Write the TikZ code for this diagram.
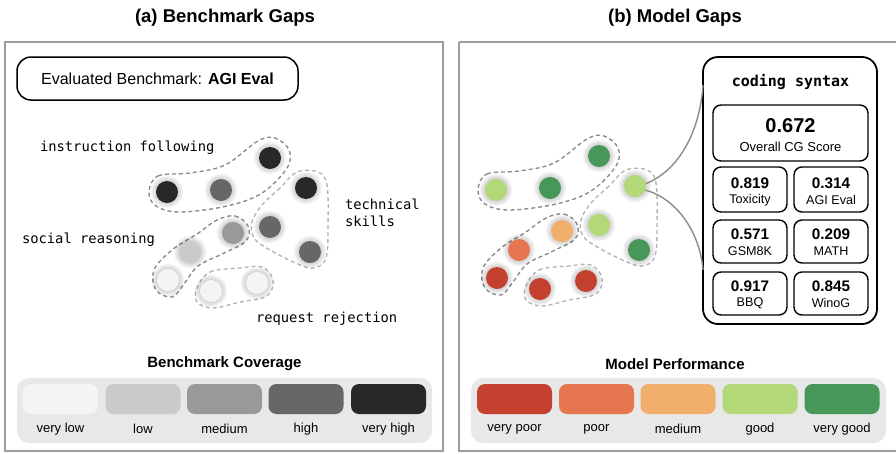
\documentclass[tikz,border=0pt]{standalone}
\usepackage{fontspec}
\setmainfont{Liberation Sans}
\setmonofont{DejaVu Sans Mono}

% coverage scale (greys)
\definecolor{cvlow}{HTML}{F4F4F4}
\definecolor{clow}{HTML}{CACACA}
\definecolor{cmed}{HTML}{999999}
\definecolor{chigh}{HTML}{676767}
\definecolor{cvhigh}{HTML}{282828}
% performance scale
\definecolor{pvpoor}{HTML}{C5412F}
\definecolor{ppoor}{HTML}{E5764F}
\definecolor{pmed}{HTML}{F0B06B}
\definecolor{pgood}{HTML}{B2D877}
\definecolor{pvgood}{HTML}{479758}
% frames
\definecolor{panelgray}{HTML}{9C9C9C}
\definecolor{hullgray}{HTML}{8A8A8A}
\definecolor{hulllight}{HTML}{B4B4B4}
\definecolor{legendbg}{HTML}{E8E8E8}
\definecolor{conngray}{HTML}{8C8C8C}

\tikzset{
  every node/.style={inner sep=0pt, outer sep=0pt},
  panel/.style={draw=panelgray, line width=2pt},
  hull/.style={draw=#1, line width=1.35pt, dash pattern=on 4pt off 3pt},
  hull/.default=hullgray,
  dotnode/.style={circle, minimum size=22pt, fill=#1},
  title/.style={font=\bfseries\fontsize{18.5}{22}\selectfont},
  monolabel/.style={font=\ttfamily\fontsize{13.8}{16.5}\selectfont},
  legtitle/.style={font=\bfseries\fontsize{15}{18}\selectfont},
  legbg/.style={fill=legendbg, rounded corners=12pt},
  swatch/.style={minimum width=75pt, minimum height=30pt, rounded corners=8pt, fill=#1},
  leglabel/.style={font=\fontsize{13}{15}\selectfont},
  scorebox/.style={draw, line width=1.4pt, rounded corners=8pt},
  scorenum/.style={font=\bfseries\fontsize{15.3}{18}\selectfont},
  scorelab/.style={font=\fontsize{12.6}{15}\selectfont},
  conn/.style={draw=conngray, line width=1.4pt},
}

% a soft halo under each circle
\newcommand\gdot[4]{%
  \foreach \k in {1,...,10}{\fill[black, opacity=0.02] (#2,#3) circle ({10.5+0.6*\k});}
  \node[dotnode=#4] (#1) at (#2,#3) {};
}

% the four dashed cluster outlines
\newcommand\drawhulls{%
  \draw[hull] plot[smooth cycle, tension=0.6] coordinates {(149,192) (158,176) (190,173) (225,165) (258,141) (275,138) (289,150) (287,168) (262,193) (227,206) (180,212) (156,206)};
  \draw[hull=hulllight] plot[smooth cycle, tension=0.6] coordinates {(297,172) (280,188) (262,205) (252,222) (254,238) (270,250) (298,264) (314,268) (326,258) (328,225) (327,185) (318,172)};
  \draw[hull] plot[smooth cycle, tension=0.6] coordinates {(217,220) (235,216) (248,226) (246,241) (222,254) (198,266) (184,284) (172,297) (156,290) (154,270) (172,250) (197,234)};
  \draw[hull=hulllight] plot[smooth cycle, tension=0.6] coordinates {(197,288) (210,272) (240,268) (262,267) (273,280) (267,296) (240,302) (213,308) (197,302)};
}

\begin{document}
\begin{tikzpicture}[x=1pt, y=-1pt]
\useasboundingbox (0,0) rectangle (896,453);

% ---------------- panel (a) ----------------
\node[title] (ta) at (225,18) {(a) Benchmark Gaps};
\draw[panel] (5,42) rectangle (443,451);

\node[draw, line width=1.5pt, rounded corners=14pt, minimum width=281pt, minimum height=43pt,
      font=\fontsize{16}{19}\selectfont] (evalbox) at (157.5,78.5)
      {Evaluated Benchmark: \textbf{AGI Eval}};

\drawhulls
\gdot{aI1}{167}{192}{cvhigh}
\gdot{aI2}{221}{190}{chigh}
\gdot{aI3}{270}{158}{cvhigh}
\gdot{aT1}{306}{188}{cvhigh}
\gdot{aT2}{270}{227}{chigh}
\gdot{aT3}{310}{252}{chigh}
\gdot{aS1}{233}{233}{cmed}
\gdot{aS2}{190}{252}{clow}
\gdot{aS3}{168}{280}{cvlow}
\gdot{aR1}{211}{291}{cvlow}
\gdot{aR2}{257}{283}{cvlow}

\node[monolabel, anchor=west] (lblinst) at (40,148) {instruction following};
\node[monolabel, anchor=west, align=left] (lbltech) at (345,213) {technical\\skills};
\node[monolabel, anchor=west] (lblsoc) at (22,240) {social reasoning};
\node[monolabel, anchor=west] (lblreq) at (256,319) {request rejection};

\node[legtitle] (legta) at (224.5,364) {Benchmark Coverage};
\fill[legbg] (17,378) rectangle (432,443);
\node[swatch=cvlow]  (sa1) at (60.5,399) {};
\node[swatch=clow]   (sa2) at (143,399) {};
\node[swatch=cmed]   (sa3) at (224.5,399) {};
\node[swatch=chigh]  (sa4) at (306,399) {};
\node[swatch=cvhigh] (sa5) at (388.5,399) {};
\node[leglabel] (la1) at (60.5,429) {very low};
\node[leglabel] (la2) at (143,429) {low};
\node[leglabel] (la3) at (224.5,429) {medium};
\node[leglabel] (la4) at (306,429) {high};
\node[leglabel] (la5) at (388.5,429) {very high};

% ---------------- panel (b) ----------------
\node[title] (tb) at (675,18) {(b) Model Gaps};
\draw[panel] (459,42) -- (898,42);
\draw[panel] (459,42) -- (459,451) -- (898,451);

\begin{scope}[xshift=329pt, yshift=2pt]
\drawhulls
\gdot{bI1}{167}{192}{pgood}
\gdot{bI2}{221}{190}{pvgood}
\gdot{bI3}{270}{158}{pvgood}
\gdot{bT1}{306}{188}{pgood}
\gdot{bT2}{270}{227}{pgood}
\gdot{bT3}{310}{252}{pvgood}
\gdot{bS1}{233}{233}{pmed}
\gdot{bS2}{190}{252}{ppoor}
\gdot{bS3}{168}{280}{pvpoor}
\gdot{bR1}{211}{291}{pvpoor}
\gdot{bR2}{257}{283}{pvpoor}
\end{scope}

% detail card for one cluster
\node[draw, line width=1.8pt, rounded corners=15pt, minimum width=174pt, minimum height=267pt] (card) at (790,190.5) {};
\node[font=\ttfamily\bfseries\fontsize{15}{18}\selectfont] (cardtitle) at (790.5,82) {coding syntax};

\node[scorebox, minimum width=155pt, minimum height=56pt] (overall) at (790.5,133) {};
\node[font=\bfseries\fontsize{20}{24}\selectfont] (overallnum) at (790.5,126) {0.672};
\node[font=\fontsize{13}{15}\selectfont] (overalllab) at (790.5,147) {Overall CG Score};

\node[scorebox, minimum width=74pt, minimum height=45pt] (bx1) at (750,189.5) {};
\node[scorebox, minimum width=74pt, minimum height=45pt] (bx2) at (831,189.5) {};
\node[scorebox, minimum width=74pt, minimum height=43pt] (bx3) at (750,241.5) {};
\node[scorebox, minimum width=74pt, minimum height=43pt] (bx4) at (831,241.5) {};
\node[scorebox, minimum width=74pt, minimum height=43pt] (bx5) at (750,293.5) {};
\node[scorebox, minimum width=74pt, minimum height=43pt] (bx6) at (831,293.5) {};

\node[scorenum] (n1) at (750,183) {0.819};
\node[scorelab] (l1) at (750,200) {Toxicity};
\node[scorenum] (n2) at (831,183) {0.314};
\node[scorelab] (l2) at (831,200) {AGI Eval};
\node[scorenum] (n3) at (750,234) {0.571};
\node[scorelab] (l3) at (750,251) {GSM8K};
\node[scorenum] (n4) at (831,234) {0.209};
\node[scorelab] (l4) at (831,251) {MATH};
\node[scorenum] (n5) at (750,286) {0.917};
\node[scorelab] (l5) at (750,303) {BBQ};
\node[scorenum] (n6) at (831,286) {0.845};
\node[scorelab] (l6) at (831,303) {WinoG};

% leader lines from the highlighted circle to the card
\coordinate (cardin1) at (703,85);
\coordinate (cardin2) at (703,270);
\draw[conn] (bT1.12) .. controls (680,170) and (700,130) .. (cardin1);
\draw[conn] (bT1.-22) .. controls (676,198) and (700,232) .. (cardin2);

\node[legtitle] (legtb) at (675,364) {Model Performance};
\fill[legbg] (471,378) rectangle (886,443);
\node[swatch=pvpoor] (sb1) at (514.5,399) {};
\node[swatch=ppoor]  (sb2) at (596.5,399) {};
\node[swatch=pmed]   (sb3) at (678,399) {};
\node[swatch=pgood]  (sb4) at (760,399) {};
\node[swatch=pvgood] (sb5) at (842,399) {};
\node[leglabel] (lb1) at (514.5,429) {very poor};
\node[leglabel] (lb2) at (596.5,429) {poor};
\node[leglabel] (lb3) at (678,429) {medium};
\node[leglabel] (lb4) at (760,429) {good};
\node[leglabel] (lb5) at (842,429) {very good};
\end{tikzpicture}
\end{document}
